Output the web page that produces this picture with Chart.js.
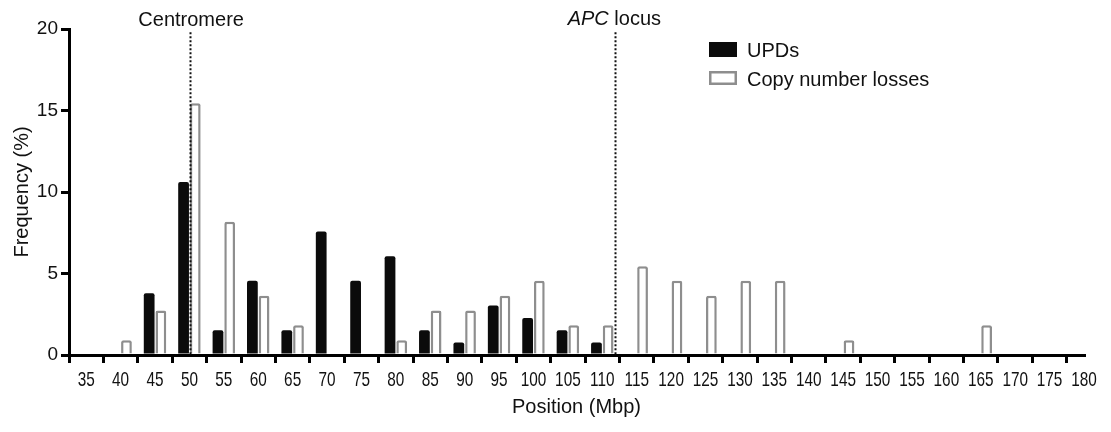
<!DOCTYPE html>
<html>
<head>
<meta charset="utf-8">
<script src="https://cdn.jsdelivr.net/npm/chart.js@4/dist/chart.umd.min.js"></script>
<style>
  html, body { margin: 0; padding: 0; background: #fff; }
</style>
</head>
<body>
<canvas id="chart" width="1111" height="432"></canvas>
<script>
'use strict';

// bins (Mbp) and frequencies (%)
const positions = [40, 45, 50, 55, 60, 65, 70, 75, 80, 85, 90, 95, 100, 105, 110,
  115, 120, 125, 130, 135, 140, 145, 150, 155, 160, 165];
const upds = [0, 3.79, 10.61, 1.52, 4.55, 1.52, 7.58, 4.55, 6.06, 1.52, 0.76, 3.03, 2.27, 1.52, 0.76,
  0, 0, 0, 0, 0, 0, 0, 0, 0, 0, 0];
const losses = [0.91, 2.73, 15.45, 8.18, 3.64, 1.82, 0, 0, 0.91, 2.73, 2.73, 3.64, 4.55, 1.82, 1.82,
  5.45, 4.55, 3.64, 4.55, 4.55, 0, 0.91, 0, 0, 0, 1.82];
const xTicks = [35, 40, 45, 50, 55, 60, 65, 70, 75, 80, 85, 90, 95, 100, 105, 110, 115, 120,
  125, 130, 135, 140, 145, 150, 155, 160, 165, 170, 175, 180];
const yTicks = [0, 5, 10, 15, 20];
const centromere = 50.1;
const apcLocus = 111.9;

const FONT = "'Liberation Sans', Arial, Helvetica, sans-serif";
const INK = '#111';

// dotted marker lines + their labels
const markers = {
  id: 'markers',
  afterDatasetsDraw(chart) {
    const { ctx, scales: { x, y } } = chart;
    const top = y.getPixelForValue(19.8);
    const bottom = y.getPixelForValue(0);
    ctx.save();
    ctx.strokeStyle = INK;
    ctx.lineWidth = 2;
    ctx.setLineDash([2, 2]);
    for (const v of [centromere, apcLocus]) {
      const px = Math.round(x.getPixelForValue(v)) + 0.5;
      ctx.beginPath();
      ctx.moveTo(px, top);
      ctx.lineTo(px, bottom);
      ctx.stroke();
    }
    ctx.setLineDash([]);

    ctx.fillStyle = INK;
    ctx.textBaseline = 'alphabetic';
    ctx.font = '20px ' + FONT;
    ctx.textAlign = 'center';
    ctx.fillText('Centromere', x.getPixelForValue(centromere) + 1, 26);

    // "APC" italic, " locus" upright
    ctx.textAlign = 'left';
    ctx.font = 'italic 20px ' + FONT;
    const w1 = ctx.measureText('APC').width;
    ctx.font = '20px ' + FONT;
    const w2 = ctx.measureText(' locus').width;
    const start = x.getPixelForValue(apcLocus) - 1 - (w1 + w2) / 2;
    ctx.font = 'italic 20px ' + FONT;
    ctx.fillText('APC', start, 25);
    ctx.font = '20px ' + FONT;
    ctx.fillText(' locus', start + w1, 25);
    ctx.restore();
  }
};

// x tick labels are set in a condensed face in the original; squeeze Arial horizontally
const narrowXLabels = {
  id: 'narrowXLabels',
  afterDraw(chart) {
    const { ctx, scales: { x } } = chart;
    ctx.save();
    ctx.fillStyle = INK;
    ctx.font = '21px ' + FONT;
    ctx.textAlign = 'center';
    ctx.textBaseline = 'alphabetic';
    for (const t of x.ticks) {
      ctx.save();
      ctx.translate(x.getPixelForValue(t.value), 386);
      ctx.scale(0.73, 1);
      ctx.fillText(String(t.value), 0, 0);
      ctx.restore();
    }
    ctx.restore();
  }
};

// legend box in the top right
const legendBox = {
  id: 'legendBox',
  afterDraw(chart) {
    const { ctx } = chart;
    ctx.save();
    ctx.font = '20px ' + FONT;
    ctx.textBaseline = 'alphabetic';
    chart.data.datasets.forEach((ds, i) => {
      const top = 42 + i * 29;
      if (ds.borderWidth) {
        ctx.fillStyle = '#fff';
        ctx.fillRect(709, top, 28, 14);
        ctx.strokeStyle = ds.borderColor;
        ctx.lineWidth = 2.5;
        ctx.strokeRect(709 + 1.25, top + 1.25, 28 - 2.5, 14 - 2.5);
      } else {
        ctx.fillStyle = ds.backgroundColor;
        ctx.fillRect(709, top, 28, 15);
      }
      ctx.fillStyle = INK;
      ctx.fillText(ds.label, 747, top + 15);
    });
    ctx.restore();
  }
};

new Chart(document.getElementById('chart'), {
  type: 'bar',
  data: {
    datasets: [{
      label: 'UPDs',
      data: positions.map((p, i) => ({ x: p, y: upds[i] })),
      backgroundColor: '#0b0b0b',
      borderWidth: 0,
      borderRadius: { topLeft: 2, topRight: 2 },
      categoryPercentage: 0.68,
      barPercentage: 0.92
    },
    {
      label: 'Copy number losses',
      data: positions.map((p, i) => ({ x: p, y: losses[i] })),
      backgroundColor: '#fff',
      borderColor: '#8e8e8e',
      borderWidth: 2.5,
      borderRadius: { topLeft: 2, topRight: 2 },
      categoryPercentage: 0.68,
      barPercentage: 0.92
    }]
  },
  options: {
    responsive: false,
    animation: false,
    layout: { padding: { top: 29, right: 27, bottom: 0, left: 0 } },
    plugins: {
      legend: { display: false },
      tooltip: { enabled: false }
    },
    scales: {
      x: {
        type: 'linear',
        min: 32.5,
        max: 180,
        offset: false,
        afterBuildTicks: (s) => { s.ticks = xTicks.map(v => ({ value: v })); },
        afterFit: (s) => { s.height = 77; },
        border: { display: true, width: 3, color: '#000' },
        grid: { drawOnChartArea: false, drawTicks: true, tickLength: 8, tickWidth: 3, tickColor: '#000', lineWidth: 3, color: '#000' },
        ticks: { display: false },
        title: { display: true, text: 'Position (Mbp)', color: INK, font: { family: FONT, size: 20 }, padding: { top: 0, bottom: 13 } }
      },
      y: {
        min: 0,
        max: 20,
        afterBuildTicks: (s) => { s.ticks = yTicks.map(v => ({ value: v })); },
        afterFit: (s) => { s.width = 69; },
        border: { display: true, width: 3, color: '#000' },
        grid: { drawOnChartArea: false, drawTicks: true, tickLength: 8, tickWidth: 3, tickColor: '#000', lineWidth: 3, color: '#000' },
        ticks: { padding: 3, color: INK, font: { family: FONT, size: 19 } },
        title: { display: true, text: 'Frequency (%)', color: INK, font: { family: FONT, size: 20 }, padding: { top: 10, bottom: 0 } }
      }
    }
  },
  plugins: [markers, narrowXLabels, legendBox]
});
</script>
</body>
</html>
